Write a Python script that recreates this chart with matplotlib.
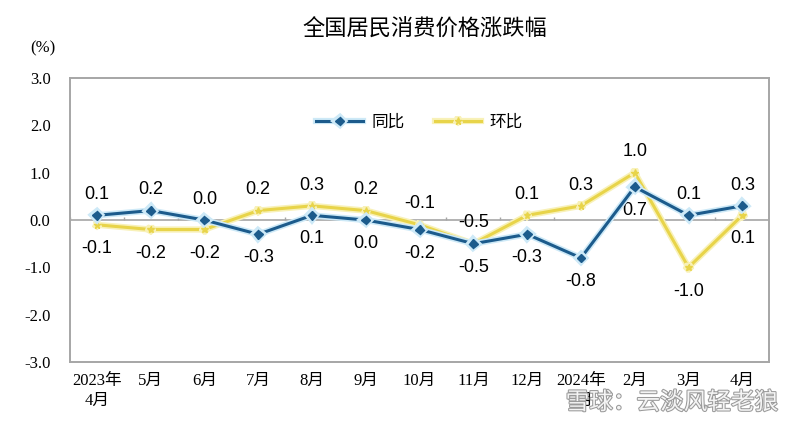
import matplotlib.pyplot as plt
import matplotlib.patheffects as pe
import numpy as np

plt.rcParams['font.family'] = ['Liberation Sans', 'Noto Sans CJK SC']

# Data
months = ['2023年\n4月', '5月', '6月', '7月', '8月', '9月', '10月', '11月',
          '12月', '2024年\n1月', '2月', '3月', '4月']
yoy = [0.1, 0.2, 0.0, -0.3, 0.1, 0.0, -0.2, -0.5, -0.3, -0.8, 0.7, 0.1, 0.3]
mom = [-0.1, -0.2, -0.2, 0.2, 0.3, 0.2, -0.1, -0.5, 0.1, 0.3, 1.0, -1.0, 0.1]
# label placement: 1 above, -1 below
yoy_pos = [1, 1, 1, -1, -1, -1, -1, -1, -1, -1, -1, 1, 1]
mom_pos = [-1, -1, -1, 1, 1, 1, 1, 1, 1, 1, 1, -1, -1]

blue = '#1c5b8c'
yellow = '#e8d44a'
axis_gray = '#a6a6a6'

x = np.arange(len(months))

fig = plt.figure(figsize=(8, 4.24), dpi=100)
ax = fig.add_axes([0.0875, 0.146, 0.874, 0.67])

glow_b = [pe.Stroke(linewidth=4.5, foreground='#cde9f7'), pe.Normal()]
glow_y = [pe.Stroke(linewidth=4.5, foreground='#f8f1b8'), pe.Normal()]

ax.axhline(0, color=axis_gray, lw=1.2, zorder=1)
ax.vlines(np.arange(-0.5, len(months)), 0, 0.07, color=axis_gray, lw=1, zorder=1)

ax.plot(x, mom, color=yellow, lw=2.2, marker='*', ms=5, label='环比',
        path_effects=glow_y, zorder=3)
ax.plot(x, yoy, color=blue, lw=2.2, marker='D', ms=4.5, label='同比',
        path_effects=glow_b, zorder=4)

for xi, v, p in zip(x, yoy, yoy_pos):
    ax.annotate(f'{v:.1f}', (xi, v), xytext=(0, 15 if p > 0 else -17),
                textcoords='offset points', ha='center', va='center', fontsize=13)
for xi, v, p in zip(x, mom, mom_pos):
    ax.annotate(f'{v:.1f}', (xi, v), xytext=(0, 15 if p > 0 else -17),
                textcoords='offset points', ha='center', va='center', fontsize=13)

ax.set_xlim(-0.5, len(months) - 0.5)
ax.set_ylim(-3, 3)
ax.set_yticks(np.arange(-3, 3.1, 1))
ax.set_yticklabels([f'{t:.1f}' for t in np.arange(-3, 3.1, 1)],
                   family=['Liberation Serif', 'Noto Sans CJK SC'], fontsize=12)
ax.set_xticks(x)
ax.set_xticklabels(months, family=['Liberation Serif', 'Noto Sans CJK SC'],
                   fontsize=12, linespacing=1.3, va='top')
ax.tick_params(axis='both', length=0, pad=8)
ax.tick_params(axis='y', pad=14)
for s in ax.spines.values():
    s.set_color(axis_gray)
    s.set_linewidth(1.4)

handles, labels = ax.get_legend_handles_labels()
ax.legend(handles[::-1], labels[::-1], loc='center', bbox_to_anchor=(0.5, 0.845),
          ncol=2, frameon=False, fontsize=12, handlelength=2.8, columnspacing=1.8,
          handletextpad=0.5)

fig.text(0.531, 0.93, '全国居民消费价格涨跌幅', ha='center', va='center',
         fontsize=16, family=['Noto Sans CJK SC'])
fig.text(0.038, 0.885, '(%)', ha='left', va='center', fontsize=12,
         family=['Liberation Serif'])

# watermark
fig.text(0.84, 0.05, '雪球：云淡风轻老狼', ha='center', va='center', fontsize=17,
         color='#f4f4f4', family=['Noto Sans CJK SC'], zorder=10,
         path_effects=[pe.withStroke(linewidth=1.5, foreground='#9a9a9a')])

fig.savefig('out.png', dpi=100)
